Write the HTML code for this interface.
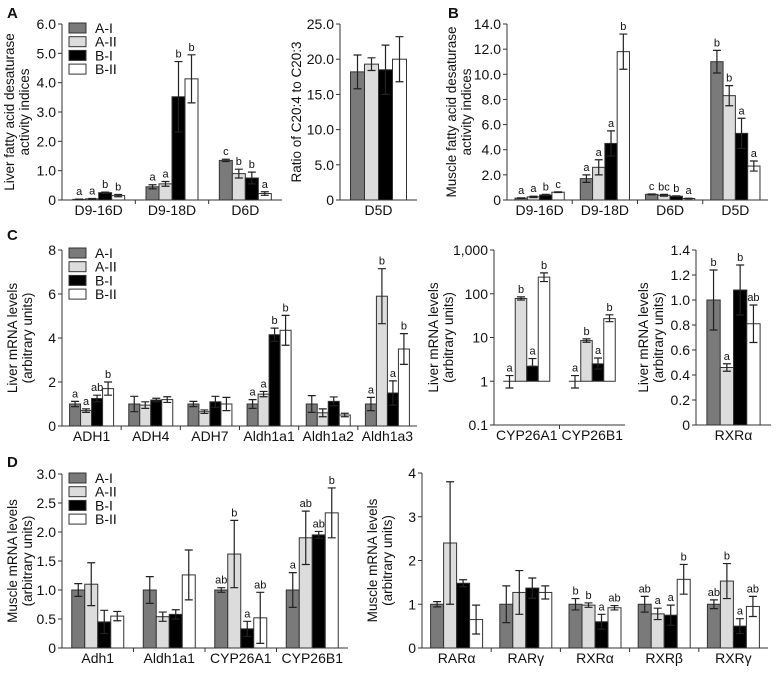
<!DOCTYPE html>
<html><head><meta charset="utf-8">
<style>
body{margin:0;background:#fff;}
svg{display:block;font-family:"Liberation Sans",Arial,sans-serif;}
</style></head>
<body>
<svg id="fig" width="778" height="675" viewBox="0 0 778 675" xmlns="http://www.w3.org/2000/svg"></svg>
<script>
// ---------- DATA ----------
const seriesNames = ["A-I","A-II","B-I","B-II"];
// Panel A1 liver desaturase
const a1Cats = ["D9-16D","D9-18D","D6D"];
const a1Vals = [[0.02,0.04,0.25,0.15],[0.45,0.55,3.52,4.13],[1.35,0.9,0.75,0.22]];
const a1Err  = [[0.01,0.01,0.02,0.04],[0.07,0.08,1.2,0.82],[0.04,0.15,0.2,0.06]];
const a1Let  = [["a","a","b","b"],["a","a","b","b"],["c","b","b","a"]];
const a1Ticks = ["0","1.0","2.0","3.0","4.0","5.0","6.0"];
// Panel A2 ratio
const a2Cats = ["D5D"];
const a2Vals = [[18.2,19.3,18.5,20.0]];
const a2Err  = [[2.4,0.9,3.5,3.2]];
const a2Let  = [["","","",""]];
const a2Ticks = ["0","5.0","10.0","15.0","20.0","25.0"];
// Panel B muscle desaturase
const bCats = ["D9-16D","D9-18D","D6D","D5D"];
const bVals = [[0.15,0.25,0.4,0.62],[1.7,2.6,4.5,11.8],[0.45,0.38,0.3,0.12],[11.0,8.3,5.3,2.7]];
const bErr  = [[0.02,0.05,0.05,0.03],[0.3,0.6,1.0,1.4],[0.03,0.07,0.03,0.02],[0.9,0.8,1.2,0.4]];
const bLet  = [["a","a","b","c"],["a","a","a","b"],["c","bc","b","a"],["b","b","a","a"]];
const bTicks = ["0","2.0","4.0","6.0","8.0","10.0","12.0","14.0"];
// Panel C1 liver mRNA
const c1Cats = ["ADH1","ADH4","ADH7","Aldh1a1","Aldh1a2","Aldh1a3"];
const c1Vals = [[1.0,0.7,1.25,1.7],[1.0,0.95,1.18,1.2],[1.0,0.65,1.1,1.0],[1.0,1.45,4.15,4.35],[1.0,0.6,1.12,0.5],[1.0,5.9,1.5,3.5]];
const c1Err  = [[0.12,0.08,0.15,0.3],[0.35,0.15,0.08,0.13],[0.12,0.08,0.25,0.3],[0.2,0.12,0.3,0.68],[0.38,0.18,0.2,0.08],[0.3,1.25,0.55,0.7]];
const c1Let  = [["a","a","ab","b"],["","","",""],["","","",""],["a","a","b","b"],["","","",""],["a","b","a","b"]];
const c1Ticks = ["0","2","4","6","8"];
// Panel C2 log scale
const c2Cats = ["CYP26A1","CYP26B1"];
const c2Vals = [[1,78,2.2,240],[1,8.5,2.5,27]];
const c2Lo   = [[0.7,72,2.2,190],[0.7,7.8,1.9,23]];
const c2Hi   = [[1.35,85,3.3,300],[1.35,9.3,3.4,33]];
const c2Let  = [["a","b","a","b"],["a","b","a","b"]];
const c2Ticks = ["0.1","1","10","100","1,000"];
// Panel C3
const c3Cats = ["RXRα"];
const c3Vals = [[1.0,0.46,1.08,0.81]];
const c3Err  = [[0.24,0.03,0.2,0.15]];
const c3Let  = [["b","a","b","ab"]];
const c3Ticks = ["0","0.2","0.4","0.6","0.8","1.0","1.2","1.4"];
// Panel D1
const d1Cats = ["Adh1","Aldh1a1","CYP26A1","CYP26B1"];
const d1Vals = [[1.0,1.1,0.45,0.55],[1.0,0.54,0.58,1.26],[1.0,1.62,0.33,0.52],[1.0,1.9,1.95,2.33]];
const d1Err  = [[0.11,0.37,0.2,0.08],[0.23,0.08,0.08,0.43],[0.04,0.58,0.13,0.44],[0.3,0.46,0.06,0.43]];
const d1Let  = [["","","",""],["","","",""],["ab","b","a","ab"],["a","ab","ab","b"]];
const d1Ticks = ["0","0.5","1.0","1.5","2.0","2.5","3.0"];
// Panel D2
const d2Cats = ["RARα","RARγ","RXRα","RXRβ","RXRγ"];
const d2Vals = [[1.0,2.4,1.48,0.65],[1.0,1.27,1.37,1.27],[1.0,0.98,0.6,0.92],[1.0,0.78,0.75,1.57],[1.0,1.53,0.5,0.95]];
const d2Err  = [[0.06,1.4,0.08,0.33],[0.42,0.5,0.23,0.15],[0.13,0.05,0.17,0.05],[0.18,0.13,0.23,0.34],[0.1,0.4,0.17,0.23]];
const d2Let  = [["","","",""],["","","",""],["b","b","a","ab"],["ab","a","a","b"],["ab","b","a","ab"]];
const d2Ticks = ["0","1","2","3","4"];

// ---------- DRAWING ----------
const NS="http://www.w3.org/2000/svg";
const svg=document.getElementById('fig');
const fills=["#7a7a7a","#dcdcdc","#000000","#ffffff"];
function mk(tag,attrs,parent){const e=document.createElementNS(NS,tag);for(const k in attrs)e.setAttribute(k,attrs[k]);(parent||svg).appendChild(e);return e;}
function txt(s,x,y,size,anchor,parent,rot){const t=mk('text',{x:x,y:y,'font-size':size,'text-anchor':anchor||'middle',fill:'#111'},parent);if(rot)t.setAttribute('transform','rotate(-90 '+x+' '+y+')');t.textContent=s;return t;}

function panel(name,cfg){
  const g=mk('g',{});
  
  
  const {x0,x1,yTop,yBot,cats,vals,ticks,log}=cfg;
  const nT=ticks.length-1;
  const yScale = log ? (v=>yBot-(Math.log10(v)+1)/4*(yBot-yTop))
                     : (v=>yBot-v/cfg.max*(yBot-yTop));
  const ax=mk('path',{d:`M${x0} ${yTop}V${yBot}H${x1}`,stroke:'#333','stroke-width':1,fill:'none'},g);
  
  
  ticks.forEach((t,i)=>{
    const y=yBot-i/nT*(yBot-yTop);
    mk('line',{x1:x0-4,x2:x0,y1:y,y2:y,stroke:'#333'},g);
    const tl=txt(t,x0-6,y+5,14,'end',g);
    
    
  });
  const gw=(x1-x0)/cats.length;
  const bw=cfg.bw;
  const base=log?yScale(1):yBot;
  cats.forEach((c,ci)=>{
    const gx=x0+ci*gw;
    if(ci>0) mk('line',{x1:gx,x2:gx,y1:yBot,y2:yBot+4,stroke:'#333'},g);
    const cl=txt(c,gx+gw/2,yBot+15,14,'middle',g);
    
    
    const bx0=gx+gw/2-2*bw;
    vals[ci].forEach((v,si)=>{
      const bx=bx0+si*bw;
      const yv=yScale(v);
      const r=mk('rect',{x:bx,y:Math.min(yv,base),width:bw,height:Math.max(Math.abs(base-yv),0.01),fill:fills[si],stroke:'#333','stroke-width':1},g);
      
      
      let lo,hi;
      if(log){lo=yScale(cfg.lo[ci][si]);hi=yScale(cfg.hi[ci][si]);}
      else{const e=cfg.err[ci][si];lo=yScale(Math.max(v-e,0));hi=yScale(v+e);}
      const cx=bx+bw/2;
      const eb=mk('path',{d:`M${cx} ${lo}V${hi}M${cx-4} ${hi}H${cx+4}M${cx-4} ${lo}H${cx+4}`,stroke:'#222','stroke-width':1.2,fill:'none'},g);
      
      
      const L=cfg.lets[ci][si];
      if(L){const lt=txt(L,cx,Math.min(hi,yv)-4,11,'middle',g);
        
        }
    });
  });
  cfg.title.forEach((l,i)=>{
    const tx=cfg.tx+i*15;
    const t=txt(l,tx,(yTop+yBot)/2,13.5,'middle',g,true);
    
    
  });
  return g;
}
function legend(x,y){
  const g=mk('g',{});
  
  
  seriesNames.forEach((n,i)=>{
    const yy=y+i*13.7;
    const r=mk('rect',{x:x,y:yy-5,width:17,height:10,fill:fills[i],stroke:'#333'},g);
    
    
    const t=txt(n,x+26,yy+5,14,'start',g);
    
    
  });
}
function plabel(s,x,y){const t=txt(s,x,y,15,'start');t.setAttribute('font-weight','bold');
  
  }

plabel("A",7,18);plabel("B",448,18);plabel("C",7,240);plabel("D",7,467);
panel('panel-a-liver-desaturase',{x0:62,x1:282,yTop:24,yBot:200,max:6,cats:a1Cats,vals:a1Vals,err:a1Err,lets:a1Let,ticks:a1Ticks,bw:13,title:["Liver fatty acid desaturase","activity indices"],tx:14});
legend(69,28);
panel('panel-a-ratio',{x0:340,x1:417,yTop:24,yBot:200,max:25,cats:a2Cats,vals:a2Vals,err:a2Err,lets:a2Let,ticks:a2Ticks,bw:14,title:["Ratio of C20:4 to C20:3"],tx:301});
panel('panel-b-muscle-desaturase',{x0:507,x1:768,yTop:24,yBot:200,max:14,cats:bCats,vals:bVals,err:bErr,lets:bLet,ticks:bTicks,bw:12.3,title:["Muscle fatty acid desaturase","activity indices"],tx:456});
panel('panel-c-liver-mrna',{x0:62,x1:417,yTop:250,yBot:426,max:8,cats:c1Cats,vals:c1Vals,err:c1Err,lets:c1Let,ticks:c1Ticks,bw:11,title:["Liver mRNA levels","(arbitrary units)"],tx:17});
legend(69,253);
panel('panel-c-cyp26-log',{x0:494,x1:625,yTop:250,yBot:425,log:true,cats:c2Cats,vals:c2Vals,lo:c2Lo,hi:c2Hi,lets:c2Let,ticks:c2Ticks,bw:11.5,title:["Liver mRNA levels","(arbitrary units)"],tx:438});
panel('panel-c-rxra',{x0:696,x1:771,yTop:250,yBot:425,max:1.4,cats:c3Cats,vals:c3Vals,err:c3Err,lets:c3Let,ticks:c3Ticks,bw:13.3,title:["Liver mRNA levels","(arbitrary units)"],tx:648});
panel('panel-d-muscle-mrna',{x0:62,x1:348,yTop:474,yBot:648,max:3,cats:d1Cats,vals:d1Vals,err:d1Err,lets:d1Let,ticks:d1Ticks,bw:13,title:["Muscle mRNA levels","(arbitrary units)"],tx:17});
legend(69,478);
panel('panel-d-muscle-receptors',{x0:422,x1:768,yTop:473,yBot:648,max:4,cats:d2Cats,vals:d2Vals,err:d2Err,lets:d2Let,ticks:d2Ticks,bw:13,title:["Muscle mRNA levels","(arbitrary units)"],tx:377});
</script>
</body></html>
